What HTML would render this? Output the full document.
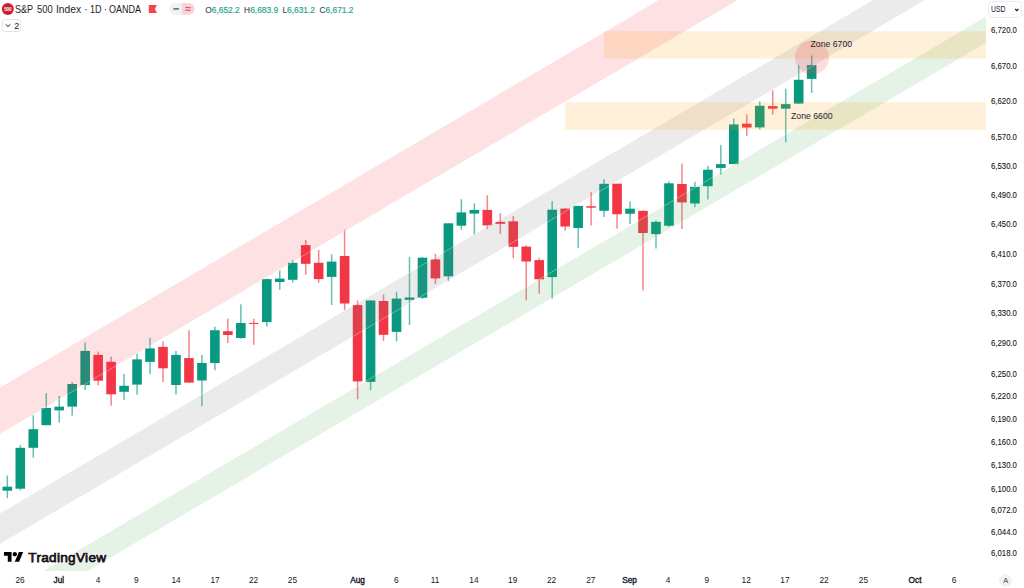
<!DOCTYPE html>
<html><head><meta charset="utf-8"><style>
html,body{margin:0;padding:0;background:#fff;}
body{width:1024px;height:588px;overflow:hidden;position:relative;font-family:"Liberation Sans",sans-serif;color:#131722;}
.chart{position:absolute;left:0;top:0;}
.zl{font-family:"Liberation Sans",sans-serif;font-size:8.7px;fill:#23262f;}
.tvl{font-family:"Liberation Sans",sans-serif;font-size:13.6px;font-weight:normal;fill:#131313;stroke:#131313;stroke-width:0.75px;letter-spacing:0.3px;}
.tvh{stroke:#fff;stroke-width:2.2px;fill:#fff;}
.pl{position:absolute;left:991.3px;height:12px;line-height:12px;font-size:8.6px;color:#131722;transform:scaleX(0.905);transform-origin:0 0;-webkit-text-stroke:0.1px #131722;}
.tl{position:absolute;top:574px;width:40px;height:12px;line-height:12px;text-align:center;font-size:8.3px;color:#131722;}
.tl.b{-webkit-text-stroke:0.35px #131722;}
.tw{position:absolute;top:3.1px;font-size:10.1px;line-height:14px;white-space:nowrap;color:#1c1f2a;transform-origin:0 0;}
.ohlc{position:absolute;top:3.6px;-webkit-text-stroke:0.15px currentColor;font-size:8.4px;line-height:12px;white-space:nowrap;color:#1fa38e;}
.ohlc b{font-weight:normal;color:#4a4d57;}
</style></head><body>
<svg class="chart" width="986" height="571" viewBox="0 0 986 571">
<rect x="6.58" y="475.6" width="1.5" height="22.6" fill="#089981" fill-opacity="0.62"/><rect x="2.53" y="486.7" width="9.6" height="4" fill="#089981"/><rect x="19.55" y="445.1" width="1.5" height="45.3" fill="#089981" fill-opacity="0.62"/><rect x="15.5" y="447.8" width="9.6" height="40.9" fill="#089981"/><rect x="32.52" y="415.3" width="1.5" height="42.4" fill="#089981" fill-opacity="0.62"/><rect x="28.47" y="429.2" width="9.6" height="18.6" fill="#089981"/><rect x="45.5" y="393.2" width="1.5" height="32" fill="#089981" fill-opacity="0.62"/><rect x="41.45" y="408" width="9.6" height="17.2" fill="#089981"/><rect x="58.47" y="396" width="1.5" height="26.6" fill="#089981" fill-opacity="0.62"/><rect x="54.42" y="406.7" width="9.6" height="3.7" fill="#089981"/><rect x="71.44" y="382" width="1.5" height="33.6" fill="#089981" fill-opacity="0.62"/><rect x="67.39" y="384" width="9.6" height="22.6" fill="#089981"/><rect x="84.42" y="342.4" width="1.5" height="47.5" fill="#089981" fill-opacity="0.62"/><rect x="80.37" y="350.9" width="9.6" height="34.1" fill="#089981"/><rect x="97.39" y="351.6" width="1.5" height="33.7" fill="#F23645" fill-opacity="0.62"/><rect x="93.34" y="354.9" width="9.6" height="25.8" fill="#F23645"/><rect x="110.36" y="356.7" width="1.5" height="49" fill="#F23645" fill-opacity="0.62"/><rect x="106.31" y="361.8" width="9.6" height="32.5" fill="#F23645"/><rect x="123.33" y="373.9" width="1.5" height="25.9" fill="#089981" fill-opacity="0.62"/><rect x="119.28" y="385.8" width="9.6" height="6" fill="#089981"/><rect x="136.31" y="353.7" width="1.5" height="41.1" fill="#089981" fill-opacity="0.62"/><rect x="132.26" y="359.4" width="9.6" height="25.2" fill="#089981"/><rect x="149.28" y="337.9" width="1.5" height="36.2" fill="#089981" fill-opacity="0.62"/><rect x="145.23" y="348.4" width="9.6" height="13.5" fill="#089981"/><rect x="162.25" y="341.3" width="1.5" height="40.8" fill="#F23645" fill-opacity="0.62"/><rect x="158.2" y="346.9" width="9.6" height="21.4" fill="#F23645"/><rect x="175.23" y="351" width="1.5" height="43.4" fill="#089981" fill-opacity="0.62"/><rect x="171.18" y="354.9" width="9.6" height="30.1" fill="#089981"/><rect x="188.2" y="330.2" width="1.5" height="52.4" fill="#F23645" fill-opacity="0.62"/><rect x="184.15" y="358.1" width="9.6" height="24.5" fill="#F23645"/><rect x="201.17" y="355" width="1.5" height="51" fill="#089981" fill-opacity="0.62"/><rect x="197.12" y="363" width="9.6" height="17.5" fill="#089981"/><rect x="214.15" y="326.8" width="1.5" height="43.5" fill="#089981" fill-opacity="0.62"/><rect x="210.09" y="330.2" width="9.6" height="32.8" fill="#089981"/><rect x="227.12" y="318.7" width="1.5" height="24.4" fill="#F23645" fill-opacity="0.62"/><rect x="223.07" y="331.2" width="9.6" height="3.8" fill="#F23645"/><rect x="240.09" y="304.3" width="1.5" height="34.3" fill="#089981" fill-opacity="0.62"/><rect x="236.04" y="323" width="9.6" height="15" fill="#089981"/><rect x="253.06" y="318.7" width="1.5" height="26.1" fill="#F23645" fill-opacity="0.62"/><rect x="249.01" y="322.9" width="9.6" height="1" fill="#F23645"/><rect x="266.04" y="278.7" width="1.5" height="48" fill="#089981" fill-opacity="0.62"/><rect x="261.99" y="279.1" width="9.6" height="43" fill="#089981"/><rect x="279.01" y="270.6" width="1.5" height="19.1" fill="#089981" fill-opacity="0.62"/><rect x="274.96" y="278.6" width="9.6" height="3.4" fill="#089981"/><rect x="291.98" y="260.2" width="1.5" height="22.3" fill="#089981" fill-opacity="0.62"/><rect x="287.93" y="262.8" width="9.6" height="17" fill="#089981"/><rect x="304.96" y="240" width="1.5" height="34.7" fill="#F23645" fill-opacity="0.62"/><rect x="300.91" y="245.1" width="9.6" height="18.7" fill="#F23645"/><rect x="317.93" y="250" width="1.5" height="32.9" fill="#F23645" fill-opacity="0.62"/><rect x="313.88" y="262.8" width="9.6" height="16.3" fill="#F23645"/><rect x="330.9" y="254.3" width="1.5" height="50.7" fill="#089981" fill-opacity="0.62"/><rect x="326.85" y="261.6" width="9.6" height="15.3" fill="#089981"/><rect x="343.88" y="229.8" width="1.5" height="80.2" fill="#F23645" fill-opacity="0.62"/><rect x="339.83" y="256" width="9.6" height="47.5" fill="#F23645"/><rect x="356.85" y="300.5" width="1.5" height="98.8" fill="#F23645" fill-opacity="0.62"/><rect x="352.8" y="305" width="9.6" height="76.4" fill="#F23645"/><rect x="369.82" y="300.5" width="1.5" height="89.7" fill="#089981" fill-opacity="0.62"/><rect x="365.77" y="300.5" width="9.6" height="81.4" fill="#089981"/><rect x="382.79" y="294.5" width="1.5" height="46.5" fill="#F23645" fill-opacity="0.62"/><rect x="378.74" y="301" width="9.6" height="33.8" fill="#F23645"/><rect x="395.77" y="291.9" width="1.5" height="49.5" fill="#089981" fill-opacity="0.62"/><rect x="391.72" y="298.6" width="9.6" height="33.3" fill="#089981"/><rect x="408.74" y="256.9" width="1.5" height="68.1" fill="#089981" fill-opacity="0.62"/><rect x="404.69" y="297.5" width="9.6" height="2.3" fill="#089981"/><rect x="421.71" y="256.9" width="1.5" height="41.9" fill="#089981" fill-opacity="0.62"/><rect x="417.66" y="257.7" width="9.6" height="40" fill="#089981"/><rect x="434.69" y="253.9" width="1.5" height="30" fill="#F23645" fill-opacity="0.62"/><rect x="430.64" y="259.4" width="9.6" height="19" fill="#F23645"/><rect x="447.66" y="223.3" width="1.5" height="57.9" fill="#089981" fill-opacity="0.62"/><rect x="443.61" y="223.3" width="9.6" height="53" fill="#089981"/><rect x="460.63" y="199.2" width="1.5" height="30.6" fill="#089981" fill-opacity="0.62"/><rect x="456.58" y="212.4" width="9.6" height="13.3" fill="#089981"/><rect x="473.61" y="203.4" width="1.5" height="31.2" fill="#089981" fill-opacity="0.62"/><rect x="469.56" y="209.9" width="9.6" height="3.7" fill="#089981"/><rect x="486.58" y="195.2" width="1.5" height="33.7" fill="#F23645" fill-opacity="0.62"/><rect x="482.53" y="209.9" width="9.6" height="15.5" fill="#F23645"/><rect x="499.55" y="213.2" width="1.5" height="20.8" fill="#F23645" fill-opacity="0.62"/><rect x="495.5" y="221.9" width="9.6" height="1.9" fill="#F23645"/><rect x="512.52" y="216" width="1.5" height="42.1" fill="#F23645" fill-opacity="0.62"/><rect x="508.47" y="221.3" width="9.6" height="25.5" fill="#F23645"/><rect x="525.5" y="245.2" width="1.5" height="55.1" fill="#F23645" fill-opacity="0.62"/><rect x="521.45" y="246.6" width="9.6" height="14.9" fill="#F23645"/><rect x="538.47" y="258.1" width="1.5" height="35.6" fill="#F23645" fill-opacity="0.62"/><rect x="534.42" y="260.1" width="9.6" height="19.2" fill="#F23645"/><rect x="551.44" y="201.1" width="1.5" height="97.7" fill="#089981" fill-opacity="0.62"/><rect x="547.39" y="209.7" width="9.6" height="67.4" fill="#089981"/><rect x="564.42" y="208.1" width="1.5" height="22.6" fill="#F23645" fill-opacity="0.62"/><rect x="560.37" y="208.6" width="9.6" height="17.9" fill="#F23645"/><rect x="577.39" y="205.9" width="1.5" height="42" fill="#089981" fill-opacity="0.62"/><rect x="573.34" y="205.9" width="9.6" height="22.1" fill="#089981"/><rect x="590.36" y="192.2" width="1.5" height="33.2" fill="#F23645" fill-opacity="0.62"/><rect x="586.31" y="206.2" width="9.6" height="1.5" fill="#F23645"/><rect x="603.34" y="179" width="1.5" height="38" fill="#089981" fill-opacity="0.62"/><rect x="599.29" y="183.8" width="9.6" height="27" fill="#089981"/><rect x="616.31" y="183.7" width="1.5" height="44.9" fill="#F23645" fill-opacity="0.62"/><rect x="612.26" y="183.7" width="9.6" height="30.5" fill="#F23645"/><rect x="629.28" y="201.4" width="1.5" height="22.7" fill="#089981" fill-opacity="0.62"/><rect x="625.23" y="208.7" width="9.6" height="5.1" fill="#089981"/><rect x="642.25" y="210.4" width="1.5" height="80" fill="#F23645" fill-opacity="0.62"/><rect x="638.2" y="210.9" width="9.6" height="22.1" fill="#F23645"/><rect x="655.23" y="220.4" width="1.5" height="28.1" fill="#089981" fill-opacity="0.62"/><rect x="651.18" y="221.9" width="9.6" height="12.2" fill="#089981"/><rect x="668.2" y="181.5" width="1.5" height="45.5" fill="#089981" fill-opacity="0.62"/><rect x="664.15" y="183.3" width="9.6" height="42.4" fill="#089981"/><rect x="681.17" y="163.7" width="1.5" height="65.2" fill="#F23645" fill-opacity="0.62"/><rect x="677.12" y="184" width="9.6" height="18.4" fill="#F23645"/><rect x="694.15" y="181.8" width="1.5" height="25.4" fill="#089981" fill-opacity="0.62"/><rect x="690.1" y="186.9" width="9.6" height="16.6" fill="#089981"/><rect x="707.12" y="165.7" width="1.5" height="33.8" fill="#089981" fill-opacity="0.62"/><rect x="703.07" y="169.7" width="9.6" height="16.5" fill="#089981"/><rect x="720.09" y="144.9" width="1.5" height="29.6" fill="#089981" fill-opacity="0.62"/><rect x="716.04" y="164.1" width="9.6" height="3.8" fill="#089981"/><rect x="733.06" y="118.4" width="1.5" height="45.7" fill="#089981" fill-opacity="0.62"/><rect x="729.01" y="124.4" width="9.6" height="39.7" fill="#089981"/><rect x="746.04" y="114.3" width="1.5" height="21.7" fill="#F23645" fill-opacity="0.62"/><rect x="741.99" y="123.7" width="9.6" height="3.8" fill="#F23645"/><rect x="759.01" y="101.5" width="1.5" height="27.9" fill="#089981" fill-opacity="0.62"/><rect x="754.96" y="105.8" width="9.6" height="21.6" fill="#089981"/><rect x="771.98" y="90.3" width="1.5" height="24.3" fill="#F23645" fill-opacity="0.62"/><rect x="767.93" y="106.1" width="9.6" height="2.6" fill="#F23645"/><rect x="784.96" y="88.8" width="1.5" height="53.4" fill="#089981" fill-opacity="0.62"/><rect x="780.91" y="104.1" width="9.6" height="4.6" fill="#089981"/><rect x="797.93" y="65.3" width="1.5" height="38.8" fill="#089981" fill-opacity="0.62"/><rect x="793.88" y="79.8" width="9.6" height="23.8" fill="#089981"/><rect x="810.9" y="55.5" width="1.5" height="37.4" fill="#089981" fill-opacity="0.62"/><rect x="806.85" y="65.1" width="9.6" height="13.8" fill="#089981"/>
<polygon points="0,387.4 986,-192.37 986,-145.77 0,434" fill="rgba(242,54,69,0.15)"/>
<polygon points="0,513.3 986,-66.47 986,-35.77 0,544" fill="rgba(122,122,124,0.15)"/>
<polygon points="0,596.3 986,16.53 986,42.93 0,622.7" fill="rgba(76,175,80,0.15)"/>
<line x1="0" y1="387.4" x2="986" y2="-192.37" stroke="rgba(255,255,255,0.45)" stroke-width="0.8"/>
<line x1="0" y1="434" x2="986" y2="-145.77" stroke="rgba(255,255,255,0.45)" stroke-width="0.8"/>
<line x1="0" y1="513.3" x2="986" y2="-66.47" stroke="rgba(255,255,255,0.45)" stroke-width="0.8"/>
<line x1="0" y1="544" x2="986" y2="-35.77" stroke="rgba(255,255,255,0.45)" stroke-width="0.8"/>
<line x1="0" y1="596.3" x2="986" y2="16.53" stroke="rgba(255,255,255,0.45)" stroke-width="0.8"/>
<line x1="0" y1="622.7" x2="986" y2="42.93" stroke="rgba(255,255,255,0.45)" stroke-width="0.8"/>
<rect x="604" y="31.2" width="382" height="27.4" fill="rgba(255,152,0,0.15)"/>
<rect x="565.3" y="102.2" width="420.7" height="27.6" fill="rgba(255,152,0,0.15)"/>
<circle cx="812" cy="57.5" r="17" fill="rgba(242,54,69,0.18)"/>
<text x="810.5" y="47.3" class="zl">Zone 6700</text>
<text x="791" y="118.5" class="zl">Zone 6600</text>
<g transform="translate(4,549.9) scale(0.54)" fill="#000" stroke="#fff" stroke-width="2" paint-order="stroke"><path d="M14 22H7V11H0V4h14v18zM28 22h-8l7.5-18h8L28 22z"/><circle cx="20" cy="8" r="4"/></g>
<text x="28.3" y="561.7" class="tvl tvh">TradingView</text><text x="28.3" y="561.7" class="tvl">TradingView</text>
</svg>
<svg style="position:absolute;left:0;top:0" width="30" height="36">
<circle cx="7.8" cy="9" r="6" fill="#cc1f2d"/>
<text x="7.8" y="10.6" text-anchor="middle" font-size="4.6" font-weight="bold" fill="#fff" font-family="Liberation Sans" letter-spacing="-0.2">500</text>
<rect x="2.3" y="19.4" width="18.6" height="12.2" rx="3" fill="#fff" stroke="#e0e3eb" stroke-width="1"/>
<path d="M5.6 24.3 L8 26.5 L10.4 24.3" fill="none" stroke="#131722" stroke-width="1"/>
<text x="14.2" y="28.9" font-size="9" fill="#131722" font-family="Liberation Sans">2</text>
</svg>
<div class="tw" style="left:15.1px;transform:scaleX(0.9)">S&amp;P</div><div class="tw" style="left:37.1px;transform:scaleX(0.93)">500</div><div class="tw" style="left:56.3px;transform:scaleX(1.02)">Index</div><div class="tw" style="left:84.2px">·</div><div class="tw" style="left:89.9px;transform:scaleX(0.9)">1D</div><div class="tw" style="left:103.8px">·</div><div class="tw" style="left:108.7px;transform:scaleX(0.895)">OANDA</div>
<svg style="position:absolute;left:140px;top:0" width="60" height="18">
<path d="M8.8 4.9 H16.9 L14.9 8.95 L16.9 13 H8.8 Z" fill="#F5424F"/>
<path d="M35.2 3 H42 V14.8 H35.2 A5.9 5.9 0 0 1 35.2 3 Z" fill="#f1f1f2"/>
<path d="M42 3 H48.8 A5.9 5.9 0 0 1 48.8 14.8 H42 Z" fill="#f9d3dc"/>
<rect x="33.2" y="8.1" width="5.9" height="1.7" rx="0.8" fill="#777a82"/>
<path d="M45.3 7.8 Q46.6 6.8 48 7.6 T50.7 7.3 M45.3 10.5 Q46.6 9.5 48 10.3 T50.7 10" fill="none" stroke="#e03350" stroke-width="1"/>
</svg>
<div class="ohlc" style="left:205.3px"><b>O</b>6,652.2</div><div class="ohlc" style="left:244.1px"><b>H</b>6,683.9</div><div class="ohlc" style="left:282.4px"><b>L</b>6,631.2</div><div class="ohlc" style="left:319.5px"><b>C</b>6,671.2</div>
<div style="position:absolute;left:988.3px;top:1.4px;width:33.4px;height:16.2px;border:1px solid #ebebeb;border-radius:3.5px;box-sizing:border-box;"></div>
<div style="position:absolute;left:990.6px;top:3px;font-size:9.1px;line-height:12px;color:#131722;transform:scaleX(0.75);transform-origin:0 0;">USD</div>
<svg style="position:absolute;left:1013px;top:7px" width="8" height="6"><path d="M2.2 2 L3.8 3.6 L5.4 2" fill="none" stroke="#131722" stroke-width="1.1"/></svg>
<div class="pl" style="top:24.26px">6,720.0</div><div class="pl" style="top:59.62px">6,670.0</div><div class="pl" style="top:95.25px">6,620.0</div><div class="pl" style="top:131.14px">6,570.0</div><div class="pl" style="top:160.06px">6,530.0</div><div class="pl" style="top:189.15px">6,490.0</div><div class="pl" style="top:218.42px">6,450.0</div><div class="pl" style="top:247.88px">6,410.0</div><div class="pl" style="top:277.52px">6,370.0</div><div class="pl" style="top:307.34px">6,330.0</div><div class="pl" style="top:337.36px">6,290.0</div><div class="pl" style="top:367.56px">6,250.0</div><div class="pl" style="top:390.34px">6,220.0</div><div class="pl" style="top:413.24px">6,190.0</div><div class="pl" style="top:436.24px">6,160.0</div><div class="pl" style="top:459.35px">6,130.0</div><div class="pl" style="top:482.58px">6,100.0</div><div class="pl" style="top:504.37px">6,072.0</div><div class="pl" style="top:526.25px">6,044.0</div><div class="pl" style="top:546.66px">6,018.0</div>
<div class="tl" style="left:0px">26</div><div class="tl b" style="left:38.8px">Jul</div><div class="tl" style="left:78px">4</div><div class="tl" style="left:116.2px">9</div><div class="tl" style="left:156px">14</div><div class="tl" style="left:195px">17</div><div class="tl" style="left:233.5px">22</div><div class="tl" style="left:272.4px">25</div><div class="tl b" style="left:337.6px">Aug</div><div class="tl" style="left:376.4px">6</div><div class="tl" style="left:415px">11</div><div class="tl" style="left:453.9px">14</div><div class="tl" style="left:492.7px">19</div><div class="tl" style="left:531.6px">22</div><div class="tl" style="left:570.8px">27</div><div class="tl b" style="left:609.6px">Sep</div><div class="tl" style="left:648.1px">4</div><div class="tl" style="left:686.8px">9</div><div class="tl" style="left:726.2px">12</div><div class="tl" style="left:764.9px">17</div><div class="tl" style="left:804px">22</div><div class="tl" style="left:843.4px">25</div><div class="tl b" style="left:895px">Oct</div><div class="tl" style="left:934px">6</div>
<div style="position:absolute;left:999.1px;top:573.8px;width:13px;height:13px;border-radius:50%;background:#f1f1f1;"></div>
<div style="position:absolute;left:999.1px;top:575px;width:13px;height:12px;line-height:12px;text-align:center;font-size:7.4px;color:#3c3f48;">A</div>
</body></html>
